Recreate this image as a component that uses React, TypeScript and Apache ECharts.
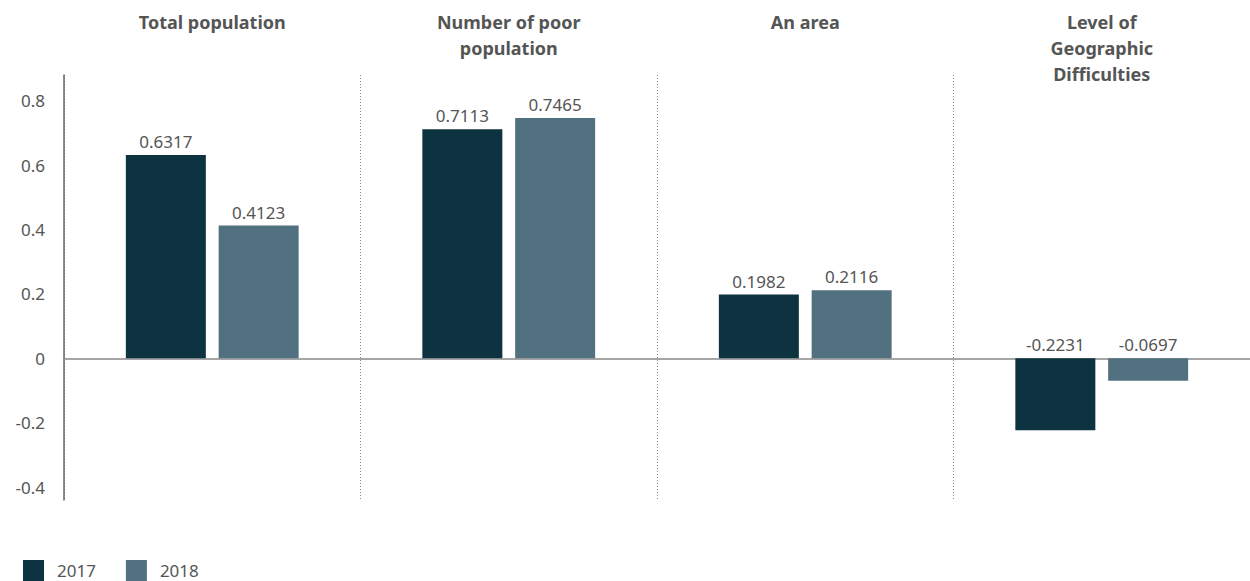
import React, { useEffect, useRef } from "react";
import * as echarts from "echarts";

const categories = [
  "Total population",
  "Number of poor\npopulation",
  "An area",
  "Level of\nGeographic\nDifficulties",
];
const values2017 = [0.6317, 0.7113, 0.1982, -0.2231];
const values2018 = [0.4123, 0.7465, 0.2116, -0.0697];
const yTicks = [-0.4, -0.2, 0, 0.2, 0.4, 0.6, 0.8];

const FONT = "'Noto Sans', sans-serif";
const C2017 = "#0d3341";
const C2018 = "#517181";

export default function App() {
  const ref = useRef<HTMLDivElement>(null);
  useEffect(() => {
    if (!ref.current) return;
    const chart = echarts.init(ref.current, undefined, { renderer: "svg" });
    const label = {
      show: true,
      position: "top",
      distance: 5,
      color: "#555",
      fontSize: 17,
      fontFamily: FONT,
      formatter: (p: any) => p.value.toFixed(4),
    };
    chart.setOption({
      animation: false,
      textStyle: { fontFamily: FONT },
      legend: {
        left: 18,
        top: 555,
        itemWidth: 21,
        itemHeight: 21,
        itemGap: 30,
        icon: "rect",
        textStyle: { color: "#555", fontSize: 17, fontFamily: FONT, padding: [0, 0, 0, 8] },
        data: ["2017", "2018"],
      },
      grid: { left: 64, right: 0, top: 75, bottom: 81, containLabel: false },
      xAxis: [
        {
          type: "category",
          data: categories,
          axisLine: { onZero: true, lineStyle: { color: "#888", width: 1.5 } },
          axisTick: { show: false },
          axisLabel: { show: false },
          splitLine: {
            show: true,
            lineStyle: { type: [1, 2], color: "#888", width: 1 },
          },
        },
        {
          type: "category",
          position: "top",
          data: categories,
          axisLine: { show: false },
          axisTick: { show: false },
          axisLabel: {
            show: true,
            margin: 66,
            verticalAlign: "top",
            color: "#555",
            fontSize: 18,
            fontWeight: "bold",
            fontFamily: FONT,
            lineHeight: 26,
            interval: 0,
          },
        },
      ],
      yAxis: {
        type: "value",
        min: -0.44,
        max: 0.88,
        axisLine: { show: true, lineStyle: { color: "#666", width: 1.5 } },
        axisTick: { show: false },
        splitLine: { show: false },
        axisLabel: {
          customValues: yTicks,
          margin: 19,
          color: "#555",
          fontSize: 17,
          fontFamily: FONT,
          formatter: (v: number) => String(Math.round(v * 10) / 10),
        },
      },
      series: [
        {
          name: "2017",
          type: "bar",
          data: values2017,
          barWidth: 80,
          barGap: "16%",
          itemStyle: { color: C2017 },
          label,
        },
        {
          name: "2018",
          type: "bar",
          data: values2018,
          barWidth: 80,
          barGap: "16%",
          itemStyle: { color: C2018 },
          label,
        },
      ],
    });
    return () => chart.dispose();
  }, []);
  return (
    <div
      ref={ref}
      style={{ position: "absolute", left: 0, top: 0, width: 1250, height: 581 }}
    />
  );
}
